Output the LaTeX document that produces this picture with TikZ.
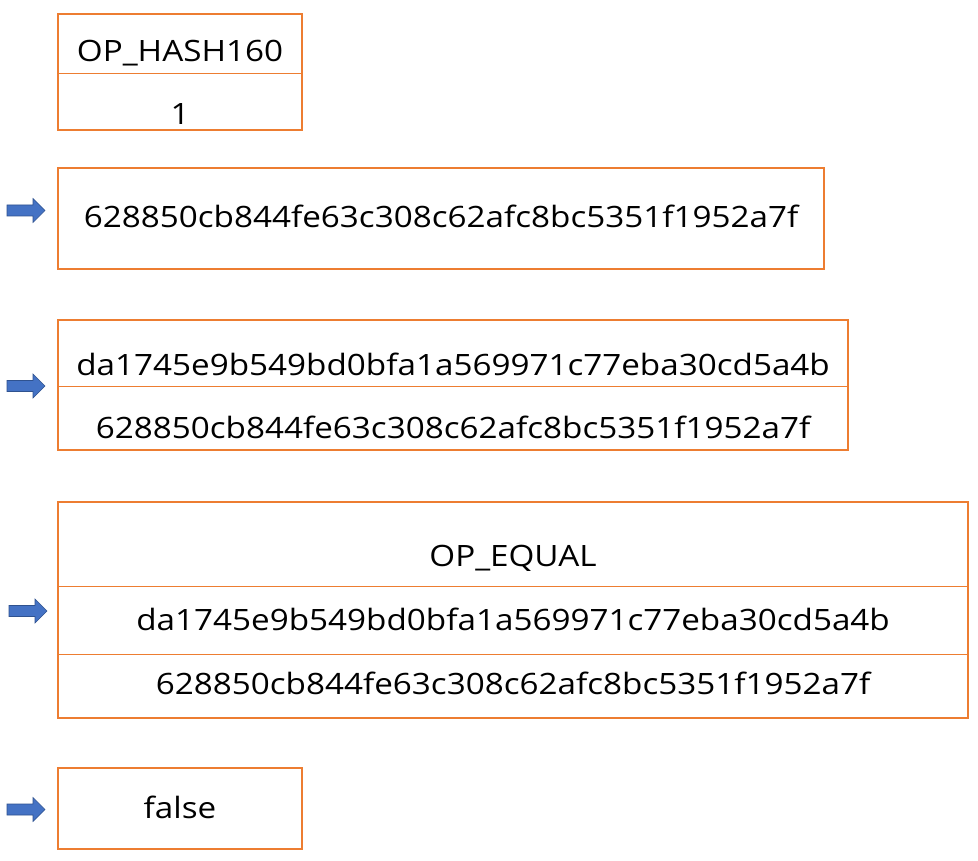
\documentclass[tikz,border=0pt]{standalone}
\usepackage{fontspec}
\setmainfont{Open Sans}[FakeStretch=1.13]
\definecolor{og}{HTML}{ED7D31}
\definecolor{ab}{HTML}{4472C4}
\definecolor{abd}{HTML}{2F528F}
\tikzset{
  box/.style={draw=og, line width=2pt},
  divline/.style={draw=og, line width=0.9pt},
  lbl/.style={font=\fontsize{29.4}{34}\selectfont, inner sep=0, anchor=base},
  blockarrow/.pic={\draw[fill=ab, draw=abd, line width=0.6pt]
     (0,-5.5) -- (26,-5.5) -- (26,-12) -- (38,0) -- (26,12) -- (26,5.5) -- (0,5.5) -- cycle;}
}
\begin{document}
\begin{tikzpicture}[x=1pt,y=-1pt]
\useasboundingbox[fill=white] (0,0) rectangle (978,861);
% box 1
\draw[box] (58,14) rectangle (302,130);
\draw[divline] (58,73) -- (302,73);
\node[lbl] (t1a) at (180,62) {OP\_HASH160};
\node[lbl] (t1b) at (180,125) {1};
% box 2
\draw[box] (58,168) rectangle (824,269);
\node[lbl] (t2a) at (441,228) {628850cb844fe63c308c62afc8bc5351f1952a7f};
\pic at (7,210.5) {blockarrow};
% box 3
\draw[box] (58,320) rectangle (848,450);
\draw[divline] (58,386) -- (848,386);
\node[lbl] (t3a) at (453,375) {da1745e9b549bd0bfa1a569971c77eba30cd5a4b};
\node[lbl] (t3b) at (453,438) {628850cb844fe63c308c62afc8bc5351f1952a7f};
\pic at (7,386) {blockarrow};
% box 4
\draw[box] (58,502) rectangle (968,718);
\draw[divline] (58,586) -- (968,586);
\draw[divline] (58,654) -- (968,654);
\node[lbl] (t4a) at (513,566) {OP\_EQUAL};
\node[lbl] (t4b) at (513,630) {da1745e9b549bd0bfa1a569971c77eba30cd5a4b};
\node[lbl] (t4c) at (513,694) {628850cb844fe63c308c62afc8bc5351f1952a7f};
\pic at (9,611) {blockarrow};
% box 5
\draw[box] (58,768) rectangle (302,849);
\node[lbl] (t5a) at (180,818) {false};
\pic at (7,809.5) {blockarrow};
\end{tikzpicture}
\end{document}
